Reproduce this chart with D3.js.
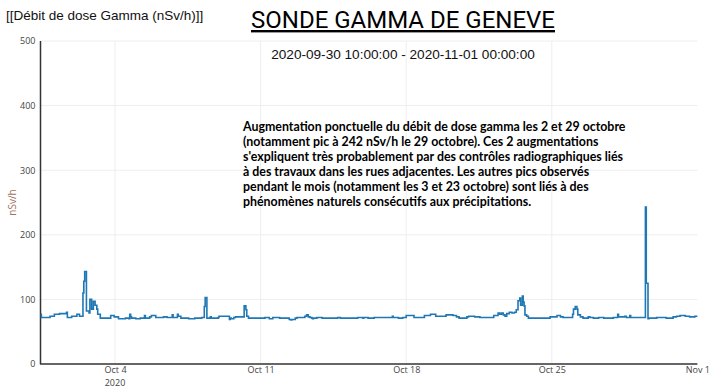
<!DOCTYPE html>
<html>
<head>
<meta charset="utf-8">
<script src="https://cdn.jsdelivr.net/npm/d3@7"></script>
<style>
  body { margin: 0; background: #fff; }
  svg { display: block; }
</style>
</head>
<body>
<script>
// change points of the gamma dose rate (value holds until the next time)
const times = [
  "2020-09-30 10:00","2020-09-30 11:00","2020-09-30 21:00","2020-10-01 02:00","2020-10-01 08:00",
  "2020-10-01 16:00","2020-10-01 17:00","2020-10-01 22:00","2020-10-02 04:00","2020-10-02 07:00",
  "2020-10-02 11:00","2020-10-02 12:00","2020-10-02 13:00","2020-10-02 15:00","2020-10-02 18:00",
  "2020-10-02 19:00","2020-10-02 21:00","2020-10-02 23:00","2020-10-03 01:00","2020-10-03 03:00",
  "2020-10-03 04:00","2020-10-03 07:00","2020-10-03 19:00","2020-10-03 23:00","2020-10-04 04:00",
  "2020-10-04 12:00","2020-10-04 16:00","2020-10-04 17:00","2020-10-04 18:00","2020-10-04 19:00",
  "2020-10-05 00:00","2020-10-05 05:00","2020-10-05 10:00","2020-10-05 11:00","2020-10-05 16:00",
  "2020-10-05 18:00","2020-10-05 23:00","2020-10-06 08:00","2020-10-06 12:00","2020-10-06 18:00",
  "2020-10-06 19:00","2020-10-07 00:00","2020-10-07 01:00","2020-10-07 04:00","2020-10-07 13:00",
  "2020-10-07 20:00","2020-10-08 04:00","2020-10-08 07:00","2020-10-08 08:00","2020-10-08 10:00",
  "2020-10-08 14:00","2020-10-08 15:00","2020-10-08 23:00","2020-10-09 00:00","2020-10-09 12:00",
  "2020-10-09 13:00","2020-10-09 14:00","2020-10-09 17:00","2020-10-09 19:00","2020-10-10 05:00",
  "2020-10-10 07:00","2020-10-10 08:00","2020-10-10 10:00","2020-10-11 05:00","2020-10-11 10:00",
  "2020-10-11 14:00","2020-10-11 22:00","2020-10-12 09:00","2020-10-12 11:00","2020-10-12 12:00",
  "2020-10-12 16:00","2020-10-12 18:00","2020-10-13 03:00","2020-10-13 05:00","2020-10-13 07:00",
  "2020-10-13 09:00","2020-10-13 11:00","2020-10-13 12:00","2020-10-13 13:00","2020-10-13 17:00",
  "2020-10-13 23:00","2020-10-14 17:00","2020-10-14 20:00","2020-10-15 16:00","2020-10-15 22:00",
  "2020-10-15 23:00","2020-10-16 04:00","2020-10-16 11:00","2020-10-17 08:00","2020-10-17 09:00",
  "2020-10-17 15:00","2020-10-17 20:00","2020-10-18 00:00","2020-10-18 09:00","2020-10-18 21:00",
  "2020-10-19 04:00","2020-10-19 10:00","2020-10-19 22:00","2020-10-20 06:00","2020-10-20 10:00",
  "2020-10-20 13:00","2020-10-20 22:00","2020-10-21 00:00","2020-10-21 07:00","2020-10-21 13:00",
  "2020-10-22 05:00","2020-10-22 10:00","2020-10-22 12:00","2020-10-22 14:00","2020-10-22 16:00",
  "2020-10-22 18:00","2020-10-22 20:00","2020-10-22 23:00","2020-10-23 02:00","2020-10-23 05:00",
  "2020-10-23 07:00","2020-10-23 09:00","2020-10-23 11:00","2020-10-23 12:00","2020-10-23 14:00",
  "2020-10-23 15:00","2020-10-23 16:00","2020-10-23 17:00","2020-10-23 19:00","2020-10-23 21:00",
  "2020-10-24 22:00","2020-10-25 06:00","2020-10-25 10:00","2020-10-25 13:00","2020-10-26 00:00",
  "2020-10-26 01:00","2020-10-26 03:00","2020-10-26 05:00","2020-10-26 06:00","2020-10-26 09:00",
  "2020-10-26 12:00","2020-10-26 18:00","2020-10-26 20:00","2020-10-27 00:00","2020-10-27 06:00",
  "2020-10-27 12:00","2020-10-27 23:00","2020-10-28 04:00","2020-10-28 05:00","2020-10-28 12:00",
  "2020-10-28 14:00","2020-10-28 18:00","2020-10-28 19:00","2020-10-29 12:00","2020-10-29 13:00",
  "2020-10-29 15:00","2020-10-29 16:00","2020-10-30 01:00","2020-10-30 12:00","2020-10-30 20:00",
  "2020-10-31 00:00","2020-10-31 04:00","2020-10-31 10:00","2020-10-31 15:00","2020-10-31 21:00",
  "2020-11-01 00:00"
];
const doses = [
  77,72,74,77,78, 80,72,74,77,74, 110,128,143,82,79, 100,85,97,91,85,
  77,71,75,73,70, 71,70,77,73,71, 70,71,75,71,73, 75,72,73,72,76,
  72,77,74,71,70, 71,72,89,103,71, 73,71,72,74,69, 71,70,72,73,90,
  84,74,71,72,70, 72,71,69,68,69, 71,72,74,76,73, 72,71,70,71,72,
  71,72,71,72,71, 72,71,72,74,72, 71,72,75,72,75, 77,74,76,75,73,
  71,73,74,73,72, 75,79,77,79,76, 74,78,80,79,80, 84,98,102,91,105,
  96,90,76,74,71, 73,75,73,72,77, 85,89,85,76,73, 71,73,72,71,72,
  71,72,77,73,74, 72,75,72,243,125, 70,71,72,71,73, 74,75,74,73,74,
  74
];
const yTicks = [0, 100, 200, 300, 400, 500];
const xTickDates = ["2020-10-04", "2020-10-11", "2020-10-18", "2020-10-25", "2020-11-01"];
const xTickLabels = ["Oct 4", "Oct 11", "Oct 18", "Oct 25", "Nov 1"];

const parseT = d3.timeParse("%Y-%m-%d %H:%M");
const parseD = d3.timeParse("%Y-%m-%d");
const data = times.map((t, i) => ({ t: parseT(t), v: doses[i] }));

const W = 719, H = 389;
const plotL = 40.5, plotR = 697.4, plotT = 41, plotB = 364;

const svg = d3.select("body").append("svg").attr("width", W).attr("height", H);

const x = d3.scaleTime()
  .domain([parseT("2020-09-30 10:00"), parseT("2020-11-01 00:00")])
  .range([plotL, plotR]);
const y = d3.scaleLinear().domain([0, 500]).range([plotB, plotT]);

// grid
svg.append("g").selectAll("line").data(yTicks.slice(1)).join("line")
  .attr("x1", plotL).attr("x2", plotR)
  .attr("y1", d => y(d)).attr("y2", d => y(d))
  .attr("stroke", "#eee").attr("stroke-width", 1);
svg.append("g").selectAll("line").data(xTickDates.slice(0, 4)).join("line")
  .attr("x1", d => x(parseD(d))).attr("x2", d => x(parseD(d)))
  .attr("y1", plotT).attr("y2", plotB)
  .attr("stroke", "#eee").attr("stroke-width", 1);

// axes
const yAxis = d3.axisLeft(y).tickValues(yTicks).tickSize(0).tickPadding(5);
const gy = svg.append("g").attr("transform", `translate(${plotL},0)`).call(yAxis);
gy.select(".domain").remove();
gy.selectAll("text").attr("fill", "#444").style("font", "9px 'Open Sans', sans-serif");

const xAxis = d3.axisBottom(x)
  .tickValues(xTickDates.map(parseD))
  .tickFormat((d, i) => xTickLabels[i])
  .tickSize(0).tickPadding(3);
const gx = svg.append("g").attr("transform", `translate(0,${plotB})`).call(xAxis);
gx.select(".domain").remove();
gx.selectAll("text").attr("fill", "#444").style("font", "9px 'Open Sans', sans-serif");
svg.append("text").attr("x", x(parseD("2020-10-04"))).attr("y", 385.5)
  .attr("text-anchor", "middle").attr("fill", "#444")
  .style("font", "9px 'Open Sans', sans-serif").text("2020");

svg.append("line").attr("x1", plotL).attr("x2", plotL).attr("y1", plotT).attr("y2", plotB + 0.5)
  .attr("stroke", "#333").attr("stroke-width", 1.5);
svg.append("line").attr("x1", plotL).attr("x2", plotR).attr("y1", plotB).attr("y2", plotB)
  .attr("stroke", "#333").attr("stroke-width", 1.5);

svg.append("text")
  .attr("transform", `translate(16,${(plotT + plotB) / 2}) rotate(-90)`)
  .attr("text-anchor", "middle").attr("fill", "#a0705a")
  .style("font", "10px 'Open Sans', sans-serif").text("nSv/h");

// the series
const line = d3.line().x(d => x(d.t)).y(d => y(d.v)).curve(d3.curveStepAfter);
svg.append("path").datum(data).attr("d", line)
  .attr("fill", "none").attr("stroke", "#1f77b4").attr("stroke-width", 1.6);

// titles
svg.append("text").attr("x", 6).attr("y", 20)
  .style("font", "13.5px 'Liberation Sans', Arial, sans-serif").attr("fill", "#111")
  .text("[[Débit de dose Gamma (nSv/h)]]");
svg.append("text").attr("x", 403).attr("y", 28).attr("text-anchor", "middle")
  .style("font", "24px Roboto, sans-serif").style("text-decoration", "underline")
  .attr("fill", "#000").text("SONDE GAMMA DE GENEVE");
svg.append("text").attr("x", 403).attr("y", 59).attr("text-anchor", "middle")
  .style("font", "13.6px 'Liberation Sans', Arial, sans-serif").attr("fill", "#111")
  .text("2020-09-30 10:00:00 - 2020-11-01 00:00:00");

// annotation
const note = [
  "Augmentation ponctuelle du débit de dose gamma les 2 et 29 octobre",
  "(notamment pic à 242 nSv/h le 29 octobre). Ces 2 augmentations",
  "s'expliquent très probablement par des contrôles radiographiques liés",
  "à des travaux dans les rues adjacentes. Les autres pics observés",
  "pendant le mois (notamment les 3 et 23 octobre) sont liés à des",
  "phénomènes naturels consécutifs aux précipitations."
];
const noteG = svg.append("g").style("font-family", "Lato, 'Open Sans', sans-serif")
  .style("font-weight", "bold").attr("fill", "#000");
const noteT = noteG.selectAll("text").data(note).join("text")
  .attr("x", 243).attr("y", (d, i) => 131 + i * 15)
  .style("font-size", "12px").text(d => d);
// fit the fifth line to the reference width
const w4 = noteT.nodes()[4].getComputedTextLength();
noteT.style("font-size", (12 * 346 / w4) + "px");
</script>
</body>
</html>
